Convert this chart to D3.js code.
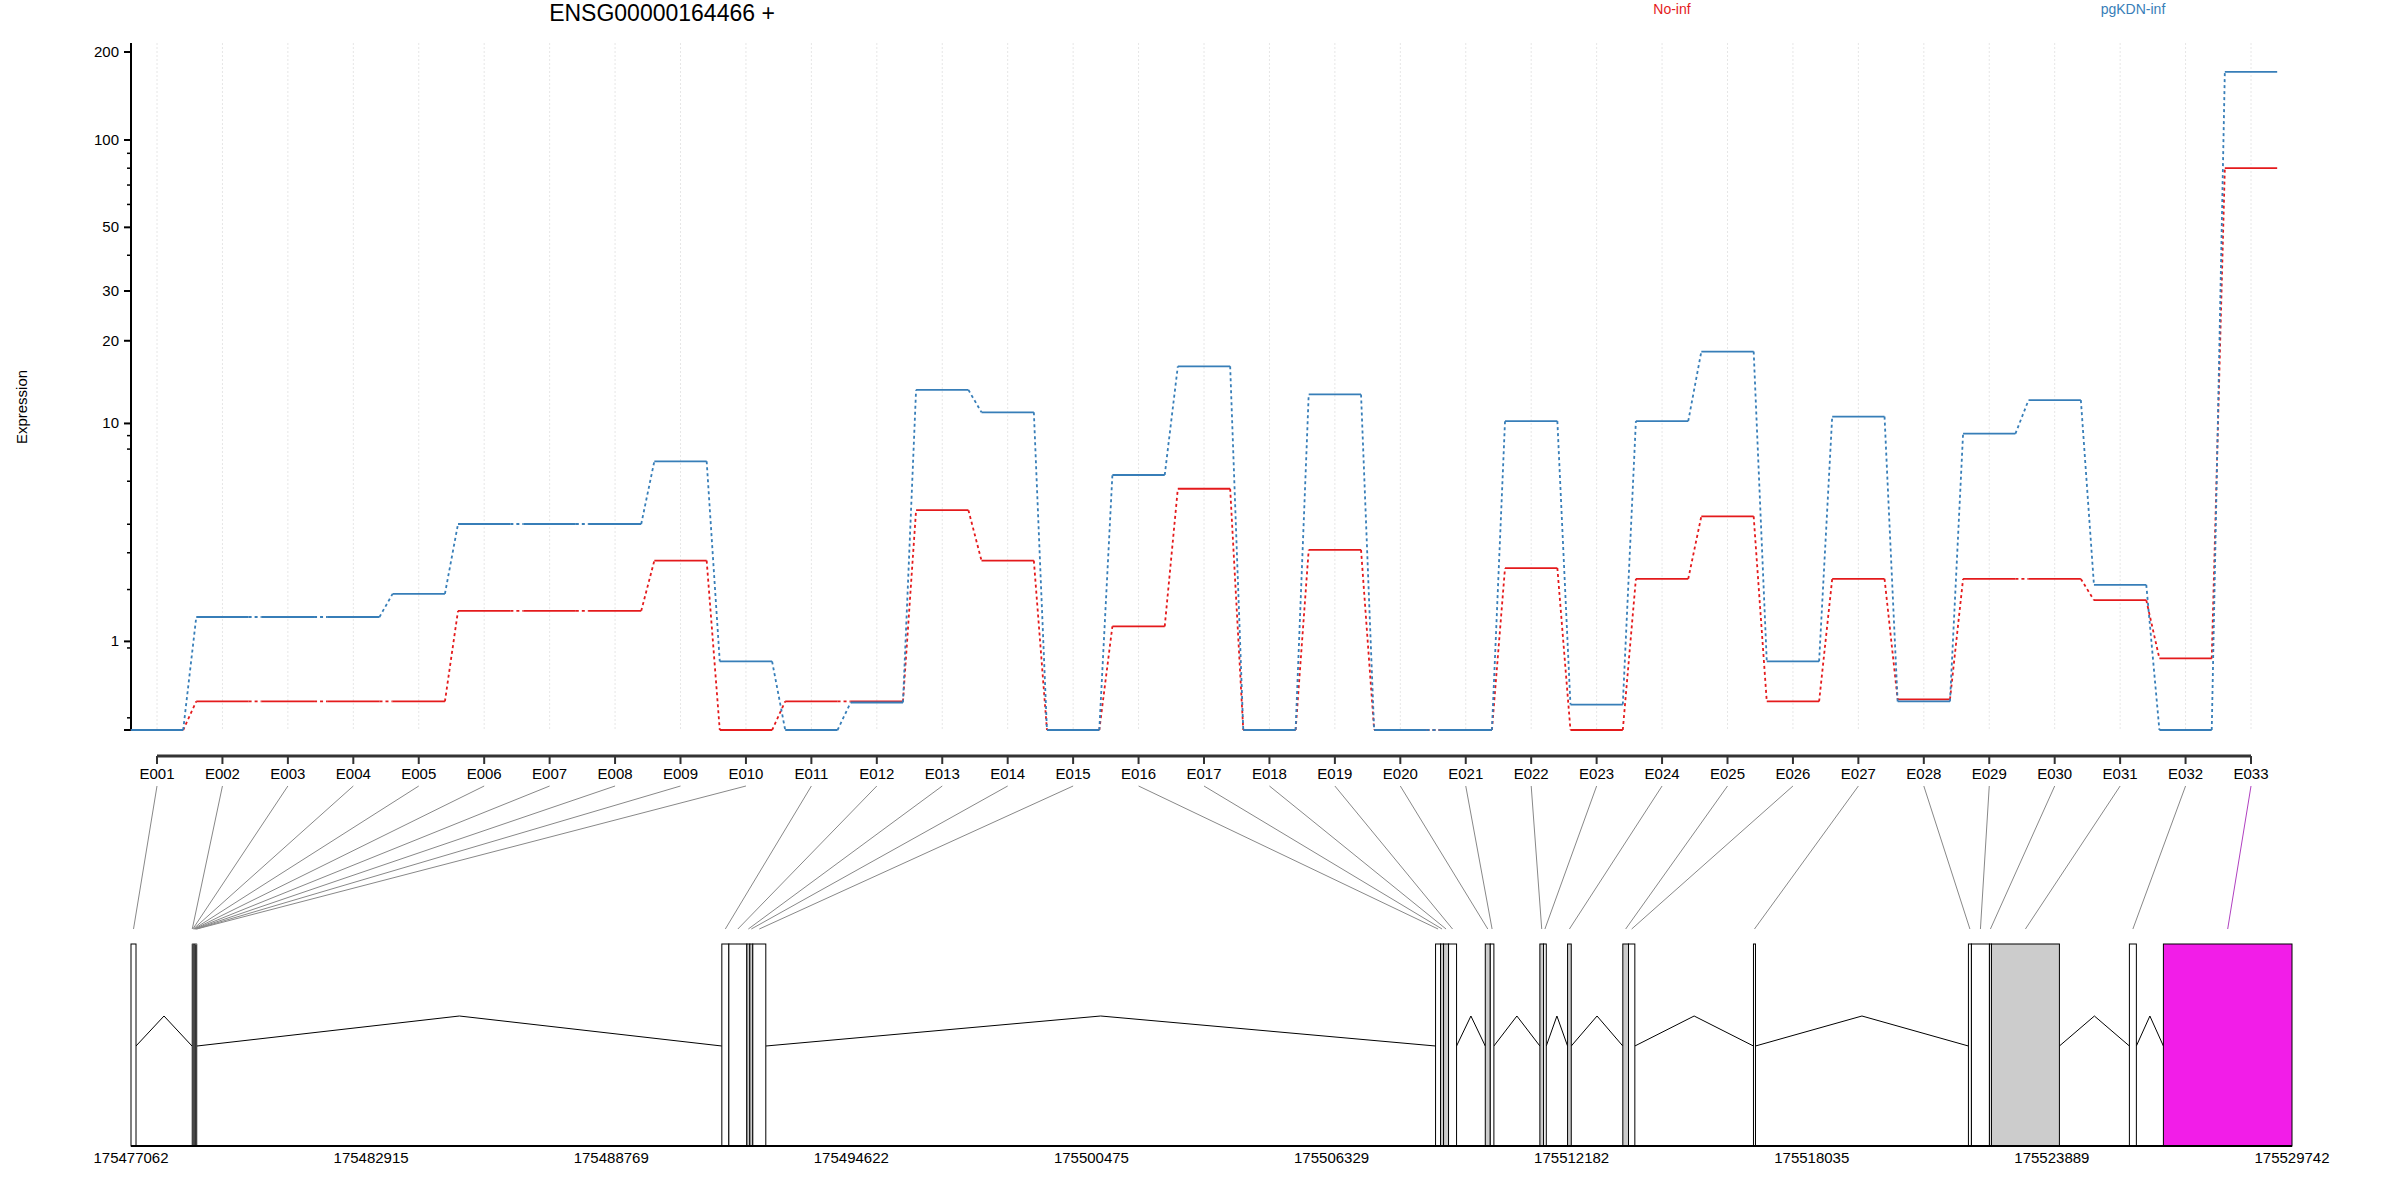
<!DOCTYPE html>
<html><head><meta charset="utf-8">
<script src="https://cdn.jsdelivr.net/npm/d3@7/dist/d3.min.js"></script>
<style>body{margin:0;background:#fff}svg{font-family:"Liberation Sans",Arial,sans-serif}</style>
</head><body>
<svg id="c" width="2400" height="1200"></svg>
<script>
const exonIds = ["E001","E002","E003","E004","E005","E006","E007","E008","E009","E010","E011","E012","E013","E014","E015","E016","E017","E018","E019","E020","E021","E022","E023","E024","E025","E026","E027","E028","E029","E030","E031","E032","E033"];
const noInf = [0,0.25,0.25,0.25,0.25,1.54,1.54,1.54,2.76,0,0.25,0.25,4.58,2.76,0,1.25,5.6,0,3.09,0,0,2.55,0,2.26,4.32,0.25,2.26,0.27,2.26,2.26,1.76,0.75,80];
const pgKDN = [0,1.42,1.42,1.42,1.9,4.01,4.01,4.01,7.18,0.71,0,0.24,13.3,11.0,0,6.35,16.2,0,12.8,0,0,10.2,0.22,10.2,18.3,0.71,10.6,0.25,9.15,12.2,2.11,0,171];
const exonStart = [175477062,175478549,175478562,175478576,175478589,175478603,175478616,175478630,175478643,175478657,175491465,175491636,175492075,175492147,175492220,175508864,175508986,175509059,175509181,175510076,175510198,175511407,175511497,175512082,175513429,175513568,175516614,175521854,175521927,175522366,175522415,175525778,175526607];
const exonEnd   = [175477184,175478562,175478576,175478589,175478603,175478616,175478630,175478643,175478657,175478670,175491636,175492075,175492147,175492220,175492537,175508986,175509059,175509181,175509376,175510198,175510286,175511497,175511563,175512172,175513568,175513722,175516663,175521927,175522366,175522415,175524072,175525948,175529742];
const exonFill = ["w","w","w","w","w","w","w","w","w","w","w","w","g","g","w","w","g","g","w","g","w","g","w","g","g","w","w","w","w","w","g","w","m"];
const intronPairs = [[0,1],[9,10],[14,15],[18,19],[20,21],[22,23],[23,24],[25,26],[26,27],[27,29],[30,31],[31,32]];
const genomicTicks = [175477062,175482915,175488769,175494622,175500475,175506329,175512182,175518035,175523889,175529742];
const yMajor = [1,10,20,30,50,100,200];
const yMinor = [0.1,0.9,2,3,4,6,8,9,40,60,70,80,90];
const conditions = ["No-inf","pgKDN-inf"];
const colors = ["#e41a1c","#377eb8"];

const svg = d3.select("#c");
const x = d3.scalePoint().domain(exonIds).range([157,2251]);
const step = x.step();
const tf = v => Math.log10(v+1);
const yT = d3.scaleLinear().domain([0,tf(200)]).range([730,52]);
const y = v => yT(tf(v));

svg.append("g").selectAll("line").data(exonIds).join("line")
  .attr("x1",d=>x(d)).attr("x2",d=>x(d)).attr("y1",43).attr("y2",730)
  .attr("stroke","#e6e6e6").attr("stroke-dasharray","2,2").attr("stroke-width",1);

const ya = svg.append("g");
ya.append("line").attr("x1",131).attr("x2",131).attr("y1",43).attr("y2",730).attr("stroke","#000").attr("stroke-width",2);
ya.selectAll(".mj").data([0].concat(yMajor)).join("line").attr("x1",124).attr("x2",131)
  .attr("y1",d=>y(d)).attr("y2",d=>y(d)).attr("stroke","#000").attr("stroke-width",2);
ya.selectAll(".mn").data(yMinor).join("line").attr("x1",127).attr("x2",131)
  .attr("y1",d=>y(d)).attr("y2",d=>y(d)).attr("stroke","#000").attr("stroke-width",1.5);
ya.selectAll("text").data(yMajor).join("text").attr("x",119).attr("y",d=>y(d)+5)
  .attr("text-anchor","end").attr("font-size",15).text(d=>d);
svg.append("text").attr("transform","translate(27,407) rotate(-90)").attr("text-anchor","middle")
  .attr("font-size",15).text("Expression");

svg.append("text").attr("x",662).attr("y",21).attr("text-anchor","middle").attr("font-size",23).text("ENSG00000164466 +");
svg.selectAll(".leg").data(conditions).join("text").attr("x",(d,i)=>[1672,2133][i]).attr("y",14)
  .attr("text-anchor","middle").attr("font-size",14).attr("fill",(d,i)=>colors[i]).text(d=>d);

[noInf,pgKDN].forEach((vals,k)=>{
  const g = svg.append("g");
  g.selectAll("line.h").data(exonIds).join("line")
    .attr("x1",d=>x(d)-0.4*step).attr("x2",d=>x(d)+0.4*step)
    .attr("y1",(d,i)=>y(vals[i])).attr("y2",(d,i)=>y(vals[i]))
    .attr("stroke",colors[k]).attr("stroke-width",1.8);
  g.selectAll("line.c").data(exonIds.slice(1)).join("line")
    .attr("x1",(d,i)=>x(exonIds[i])+0.4*step).attr("x2",d=>x(d)-0.4*step)
    .attr("y1",(d,i)=>y(vals[i])).attr("y2",(d,i)=>y(vals[i+1]))
    .attr("stroke",colors[k]).attr("stroke-width",1.8).attr("stroke-dasharray","3,3");
});

const ea = svg.append("g");
ea.append("line").attr("x1",x(exonIds[0])).attr("x2",x(exonIds[32])).attr("y1",756).attr("y2",756).attr("stroke","#333").attr("stroke-width",3);
ea.selectAll("line.t").data(exonIds).join("line").attr("x1",d=>x(d)).attr("x2",d=>x(d)).attr("y1",756).attr("y2",764).attr("stroke","#333").attr("stroke-width",2);
ea.selectAll("text").data(exonIds).join("text").attr("x",d=>x(d)).attr("y",779).attr("text-anchor","middle").attr("font-size",15).text(d=>d);

const gx = d3.scaleLinear().domain([175477062,175529742]).range([131,2292]);
const boxTop = 944, boxBot = 1146, base = 1046, peak = 1016;
svg.append("g").selectAll("line").data(exonIds).join("line")
  .attr("x1",d=>x(d)).attr("y1",786)
  .attr("x2",(d,i)=>(gx(exonStart[i])+gx(exonEnd[i]))/2).attr("y2",929)
  .attr("stroke",(d,i)=>exonFill[i]==="m"?"#b040c0":"#888").attr("stroke-width",1);
svg.append("g").selectAll("path").data(intronPairs).join("path")
  .attr("d",p=>{const a=gx(exonEnd[p[0]]), b=gx(exonStart[p[1]]); return `M${a},${base}L${(a+b)/2},${peak}L${b},${base}`;})
  .attr("fill","none").attr("stroke","#000").attr("stroke-width",1);
const fillMap = {w:"#fff",g:"#cccccc",m:"#f21de8"};
svg.append("g").selectAll("rect").data(exonIds).join("rect")
  .attr("x",(d,i)=>gx(exonStart[i])).attr("width",(d,i)=>Math.max(0.5,gx(exonEnd[i])-gx(exonStart[i])))
  .attr("y",boxTop).attr("height",boxBot-boxTop)
  .attr("fill",(d,i)=>fillMap[exonFill[i]]).attr("stroke","#000")
  .attr("stroke-width",(d,i)=>(i>=1&&i<=9)?0.5:1);
svg.append("line").attr("x1",gx(175477062)).attr("x2",gx(175529742)).attr("y1",boxBot).attr("y2",boxBot).attr("stroke","#000").attr("stroke-width",2);
svg.append("g").selectAll("text").data(genomicTicks).join("text").attr("x",d=>gx(d)).attr("y",1163)
  .attr("text-anchor","middle").attr("font-size",15).text(d=>d);
</script></body></html>
